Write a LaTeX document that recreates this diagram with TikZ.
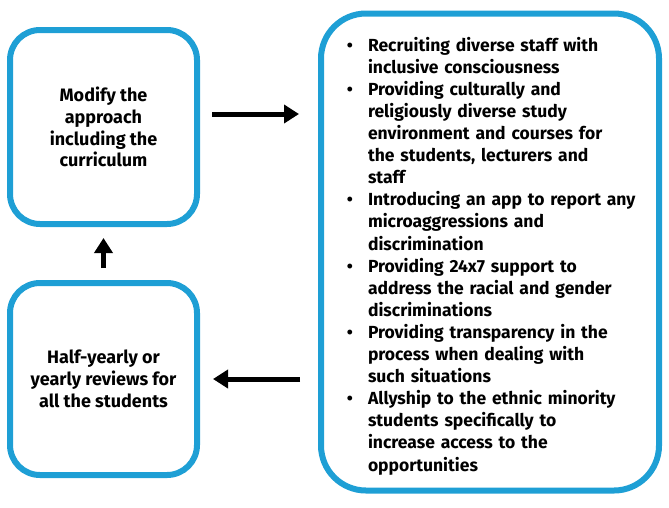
\documentclass[tikz,border=0pt]{standalone}
\usepackage{fontspec}
\setmainfont{Fira Sans}
\usepackage{enumitem}
\usetikzlibrary{arrows.meta, positioning}
\definecolor{boxblue}{HTML}{1E9FD5}

\begin{document}
\begin{tikzpicture}[x=1pt, y=-1pt, node distance=53pt, font=\fontsize{18}{21.7}\selectfont\bfseries,
	stagebox/.style={draw=boxblue, line width=6pt, rounded corners=30pt, inner sep=0pt, align=center},
	flow/.style={-{Triangle[length=15pt, width=18pt]}, line width=5pt}]
	\useasboundingbox (0,0) rectangle (669,507);
	\node[stagebox, minimum width=187pt, minimum height=194pt] (modify) at (103.5,127) {Modify the\\approach\\including the\\curriculum};
	\node[stagebox, minimum width=187pt, minimum height=192pt, below=of modify] (review) {Half-yearly or\\yearly reviews for\\all the students};
	\node[stagebox, rounded corners=45pt, minimum width=338pt, minimum height=477pt, text width=300pt, align=left, font=\fontsize{17.5}{22.1}\selectfont\bfseries] (actions) at (490,252) {%
		\begin{itemize}[leftmargin=28pt, labelsep=15pt, topsep=0pt, partopsep=0pt, itemsep=0pt, parsep=0pt, label=\textbullet]
			\item Recruiting diverse staff with\\inclusive consciousness
			\item Providing culturally and\\religiously diverse study\\environment and courses for\\the students, lecturers and\\staff
			\item Introducing an app to report any\\microaggressions and\\discrimination
			\item Providing 24x7 support to\\address the racial and gender\\discriminations
			\item Providing transparency in the\\process when dealing with\\such situations
			\item Allyship to the ethnic minority\\students specifically to\\increase access to the\\opportunities
		\end{itemize}};
	\draw[flow, shorten <=12pt, shorten >=19pt] ([yshift=13pt]modify.east) -- ([yshift=13pt]modify.east -| actions.west);
	\draw[flow, shorten <=18pt, shorten >=13pt] (actions.west |- review.east) -- (review.east);
	\draw[flow, shorten <=12pt, shorten >=11pt] (review.north) -- (modify.south);
\end{tikzpicture}
\end{document}
